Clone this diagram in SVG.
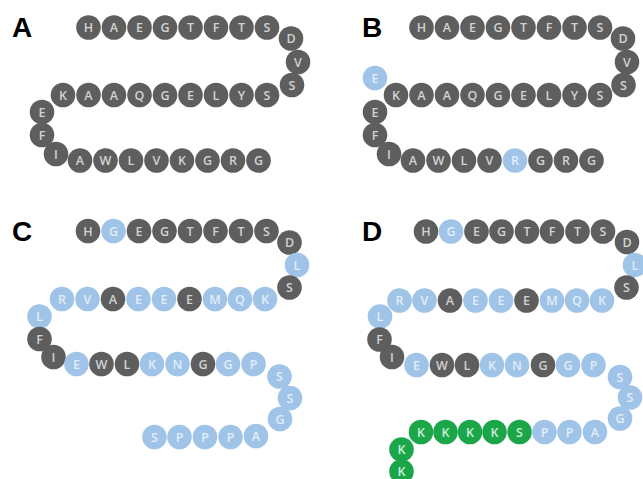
<svg xmlns="http://www.w3.org/2000/svg" width="643" height="479" viewBox="0 0 643 479">
<style>
circle{r:12.3px}
text{font-family:"Open Sans","Liberation Sans",sans-serif;font-size:12.5px;font-weight:600;text-anchor:middle;dominant-baseline:central}
.g circle{fill:#5e5e5e}.g text{fill:#d2d2d2}
.b circle{fill:#9fc4e8}.b text{fill:#e2edf9}
.k circle{fill:#1ca64a}.k text{fill:#cdeed6}
.lab{font-family:"Liberation Sans",Arial,sans-serif;font-weight:bold;font-size:28px;fill:#000;text-anchor:start;dominant-baseline:auto}
</style>
<rect width="643" height="479" fill="#fff"/>
<text class="lab" x="12" y="37">A</text>
<text class="lab" x="362" y="37">B</text>
<text class="lab" x="12" y="241">C</text>
<text class="lab" x="362" y="241">D</text>
<g id="panelA">
<g id="A1" class="g"><circle cx="88.5" cy="27.5"/><text x="88.5" y="27.5">H</text></g>
<g id="A2" class="g"><circle cx="114" cy="27.5"/><text x="114" y="27.5">A</text></g>
<g id="A3" class="g"><circle cx="139.5" cy="27.5"/><text x="139.5" y="27.5">E</text></g>
<g id="A4" class="g"><circle cx="165" cy="27.5"/><text x="165" y="27.5">G</text></g>
<g id="A5" class="g"><circle cx="190.5" cy="27.5"/><text x="190.5" y="27.5">T</text></g>
<g id="A6" class="g"><circle cx="216" cy="27.5"/><text x="216" y="27.5">F</text></g>
<g id="A7" class="g"><circle cx="241.5" cy="27.5"/><text x="241.5" y="27.5">T</text></g>
<g id="A8" class="g"><circle cx="267" cy="27.5"/><text x="267" y="27.5">S</text></g>
<g id="A9" class="g"><circle cx="291" cy="38.5"/><text x="291" y="38.5">D</text></g>
<g id="A10" class="g"><circle cx="298" cy="62"/><text x="298" y="62">V</text></g>
<g id="A11" class="g"><circle cx="292" cy="85"/><text x="292" y="85">S</text></g>
<g id="A12" class="g"><circle cx="267" cy="95"/><text x="267" y="95">S</text></g>
<g id="A13" class="g"><circle cx="241.5" cy="95"/><text x="241.5" y="95">Y</text></g>
<g id="A14" class="g"><circle cx="216" cy="95"/><text x="216" y="95">L</text></g>
<g id="A15" class="g"><circle cx="190.5" cy="95"/><text x="190.5" y="95">E</text></g>
<g id="A16" class="g"><circle cx="165" cy="95"/><text x="165" y="95">G</text></g>
<g id="A17" class="g"><circle cx="139.5" cy="95"/><text x="139.5" y="95">Q</text></g>
<g id="A18" class="g"><circle cx="114" cy="95"/><text x="114" y="95">A</text></g>
<g id="A19" class="g"><circle cx="88.5" cy="95"/><text x="88.5" y="95">A</text></g>
<g id="A20" class="g"><circle cx="63" cy="95"/><text x="63" y="95">K</text></g>
<g id="A21" class="g"><circle cx="42" cy="112"/><text x="42" y="112">E</text></g>
<g id="A22" class="g"><circle cx="42" cy="135"/><text x="42" y="135">F</text></g>
<g id="A23" class="g"><circle cx="56" cy="154"/><text x="56" y="154">I</text></g>
<g id="A24" class="g"><circle cx="80" cy="160.5"/><text x="80" y="160.5">A</text></g>
<g id="A25" class="g"><circle cx="105.5" cy="160.5"/><text x="105.5" y="160.5">W</text></g>
<g id="A26" class="g"><circle cx="131" cy="160.5"/><text x="131" y="160.5">L</text></g>
<g id="A27" class="g"><circle cx="156.5" cy="160.5"/><text x="156.5" y="160.5">V</text></g>
<g id="A28" class="g"><circle cx="182" cy="160.5"/><text x="182" y="160.5">K</text></g>
<g id="A29" class="g"><circle cx="207.5" cy="160.5"/><text x="207.5" y="160.5">G</text></g>
<g id="A30" class="g"><circle cx="233" cy="160.5"/><text x="233" y="160.5">R</text></g>
<g id="A31" class="g"><circle cx="258.5" cy="160.5"/><text x="258.5" y="160.5">G</text></g>
</g>
<g id="panelB">
<g id="B1" class="g"><circle cx="421.5" cy="27.5"/><text x="421.5" y="27.5">H</text></g>
<g id="B2" class="g"><circle cx="447" cy="27.5"/><text x="447" y="27.5">A</text></g>
<g id="B3" class="g"><circle cx="472.5" cy="27.5"/><text x="472.5" y="27.5">E</text></g>
<g id="B4" class="g"><circle cx="498" cy="27.5"/><text x="498" y="27.5">G</text></g>
<g id="B5" class="g"><circle cx="523.5" cy="27.5"/><text x="523.5" y="27.5">T</text></g>
<g id="B6" class="g"><circle cx="549" cy="27.5"/><text x="549" y="27.5">F</text></g>
<g id="B7" class="g"><circle cx="574.5" cy="27.5"/><text x="574.5" y="27.5">T</text></g>
<g id="B8" class="g"><circle cx="600" cy="27.5"/><text x="600" y="27.5">S</text></g>
<g id="B9" class="g"><circle cx="623" cy="38.5"/><text x="623" y="38.5">D</text></g>
<g id="B10" class="g"><circle cx="627" cy="62"/><text x="627" y="62">V</text></g>
<g id="B11" class="g"><circle cx="623.5" cy="85"/><text x="623.5" y="85">S</text></g>
<g id="B12" class="g"><circle cx="600" cy="95"/><text x="600" y="95">S</text></g>
<g id="B13" class="g"><circle cx="574.5" cy="95"/><text x="574.5" y="95">Y</text></g>
<g id="B14" class="g"><circle cx="549" cy="95"/><text x="549" y="95">L</text></g>
<g id="B15" class="g"><circle cx="523.5" cy="95"/><text x="523.5" y="95">E</text></g>
<g id="B16" class="g"><circle cx="498" cy="95"/><text x="498" y="95">G</text></g>
<g id="B17" class="g"><circle cx="472.5" cy="95"/><text x="472.5" y="95">Q</text></g>
<g id="B18" class="g"><circle cx="447" cy="95"/><text x="447" y="95">A</text></g>
<g id="B19" class="g"><circle cx="421.5" cy="95"/><text x="421.5" y="95">A</text></g>
<g id="B20" class="g"><circle cx="396" cy="95"/><text x="396" y="95">K</text></g>
<g id="B21" class="b"><circle cx="375" cy="78"/><text x="375" y="78">E</text></g>
<g id="B22" class="g"><circle cx="375" cy="112"/><text x="375" y="112">E</text></g>
<g id="B23" class="g"><circle cx="375" cy="135"/><text x="375" y="135">F</text></g>
<g id="B24" class="g"><circle cx="389" cy="154"/><text x="389" y="154">I</text></g>
<g id="B25" class="g"><circle cx="413" cy="160.5"/><text x="413" y="160.5">A</text></g>
<g id="B26" class="g"><circle cx="438.5" cy="160.5"/><text x="438.5" y="160.5">W</text></g>
<g id="B27" class="g"><circle cx="464" cy="160.5"/><text x="464" y="160.5">L</text></g>
<g id="B28" class="g"><circle cx="489.5" cy="160.5"/><text x="489.5" y="160.5">V</text></g>
<g id="B29" class="b"><circle cx="515" cy="160.5"/><text x="515" y="160.5">R</text></g>
<g id="B30" class="g"><circle cx="540.5" cy="160.5"/><text x="540.5" y="160.5">G</text></g>
<g id="B31" class="g"><circle cx="566" cy="160.5"/><text x="566" y="160.5">R</text></g>
<g id="B32" class="g"><circle cx="591.5" cy="160.5"/><text x="591.5" y="160.5">G</text></g>
</g>
<g id="panelC">
<g id="C1" class="g"><circle cx="88" cy="231"/><text x="88" y="231">H</text></g>
<g id="C2" class="b"><circle cx="113.5" cy="231"/><text x="113.5" y="231">G</text></g>
<g id="C3" class="g"><circle cx="139" cy="231"/><text x="139" y="231">E</text></g>
<g id="C4" class="g"><circle cx="164.5" cy="231"/><text x="164.5" y="231">G</text></g>
<g id="C5" class="g"><circle cx="190" cy="231"/><text x="190" y="231">T</text></g>
<g id="C6" class="g"><circle cx="215.5" cy="231"/><text x="215.5" y="231">F</text></g>
<g id="C7" class="g"><circle cx="241" cy="231"/><text x="241" y="231">T</text></g>
<g id="C8" class="g"><circle cx="266.5" cy="231"/><text x="266.5" y="231">S</text></g>
<g id="C9" class="g"><circle cx="289.5" cy="242.5"/><text x="289.5" y="242.5">D</text></g>
<g id="C10" class="b"><circle cx="297" cy="265"/><text x="297" y="265">L</text></g>
<g id="C11" class="g"><circle cx="289.5" cy="287.5"/><text x="289.5" y="287.5">S</text></g>
<g id="C12" class="b"><circle cx="265" cy="299"/><text x="265" y="299">K</text></g>
<g id="C13" class="b"><circle cx="240" cy="299"/><text x="240" y="299">Q</text></g>
<g id="C14" class="b"><circle cx="215" cy="299"/><text x="215" y="299">M</text></g>
<g id="C15" class="g"><circle cx="189.5" cy="299"/><text x="189.5" y="299">E</text></g>
<g id="C16" class="b"><circle cx="164" cy="299"/><text x="164" y="299">E</text></g>
<g id="C17" class="b"><circle cx="138.5" cy="299"/><text x="138.5" y="299">E</text></g>
<g id="C18" class="g"><circle cx="113" cy="299"/><text x="113" y="299">A</text></g>
<g id="C19" class="b"><circle cx="87.5" cy="299"/><text x="87.5" y="299">V</text></g>
<g id="C20" class="b"><circle cx="62" cy="299"/><text x="62" y="299">R</text></g>
<g id="C21" class="b"><circle cx="39.5" cy="316.5"/><text x="39.5" y="316.5">L</text></g>
<g id="C22" class="g"><circle cx="39.5" cy="339"/><text x="39.5" y="339">F</text></g>
<g id="C23" class="g"><circle cx="53.5" cy="357"/><text x="53.5" y="357">I</text></g>
<g id="C24" class="b"><circle cx="76.5" cy="364"/><text x="76.5" y="364">E</text></g>
<g id="C25" class="g"><circle cx="101.5" cy="364"/><text x="101.5" y="364">W</text></g>
<g id="C26" class="g"><circle cx="127" cy="364"/><text x="127" y="364">L</text></g>
<g id="C27" class="b"><circle cx="152" cy="364"/><text x="152" y="364">K</text></g>
<g id="C28" class="b"><circle cx="177.5" cy="364"/><text x="177.5" y="364">N</text></g>
<g id="C29" class="g"><circle cx="203" cy="364"/><text x="203" y="364">G</text></g>
<g id="C30" class="b"><circle cx="228" cy="364"/><text x="228" y="364">G</text></g>
<g id="C31" class="b"><circle cx="253.5" cy="364"/><text x="253.5" y="364">P</text></g>
<g id="C32" class="b"><circle cx="279.5" cy="376.5"/><text x="279.5" y="376.5">S</text></g>
<g id="C33" class="b"><circle cx="290" cy="398"/><text x="290" y="398">S</text></g>
<g id="C34" class="b"><circle cx="280" cy="419"/><text x="280" y="419">G</text></g>
<g id="C35" class="b"><circle cx="256" cy="436"/><text x="256" y="436">A</text></g>
<g id="C36" class="b"><circle cx="230.5" cy="437"/><text x="230.5" y="437">P</text></g>
<g id="C37" class="b"><circle cx="205" cy="437"/><text x="205" y="437">P</text></g>
<g id="C38" class="b"><circle cx="179.5" cy="437"/><text x="179.5" y="437">P</text></g>
<g id="C39" class="b"><circle cx="154.5" cy="437"/><text x="154.5" y="437">S</text></g>
</g>
<g id="panelD">
<g id="D1" class="g"><circle cx="426" cy="231.5"/><text x="426" y="231.5">H</text></g>
<g id="D2" class="b"><circle cx="451" cy="231.5"/><text x="451" y="231.5">G</text></g>
<g id="D3" class="g"><circle cx="476.5" cy="231.5"/><text x="476.5" y="231.5">E</text></g>
<g id="D4" class="g"><circle cx="501.5" cy="231.5"/><text x="501.5" y="231.5">G</text></g>
<g id="D5" class="g"><circle cx="527" cy="231.5"/><text x="527" y="231.5">T</text></g>
<g id="D6" class="g"><circle cx="552" cy="231.5"/><text x="552" y="231.5">F</text></g>
<g id="D7" class="g"><circle cx="577.5" cy="231.5"/><text x="577.5" y="231.5">T</text></g>
<g id="D8" class="g"><circle cx="603" cy="231.5"/><text x="603" y="231.5">S</text></g>
<g id="D9" class="g"><circle cx="627" cy="242"/><text x="627" y="242">D</text></g>
<g id="D10" class="b"><circle cx="635" cy="265"/><text x="635" y="265">L</text></g>
<g id="D11" class="g"><circle cx="626.5" cy="287.5"/><text x="626.5" y="287.5">S</text></g>
<g id="D12" class="b"><circle cx="602" cy="300.5"/><text x="602" y="300.5">K</text></g>
<g id="D13" class="b"><circle cx="577" cy="300.5"/><text x="577" y="300.5">Q</text></g>
<g id="D14" class="b"><circle cx="552" cy="300.5"/><text x="552" y="300.5">M</text></g>
<g id="D15" class="g"><circle cx="526.5" cy="300.5"/><text x="526.5" y="300.5">E</text></g>
<g id="D16" class="b"><circle cx="501" cy="300.5"/><text x="501" y="300.5">E</text></g>
<g id="D17" class="b"><circle cx="475.5" cy="300.5"/><text x="475.5" y="300.5">E</text></g>
<g id="D18" class="g"><circle cx="450" cy="300.5"/><text x="450" y="300.5">A</text></g>
<g id="D19" class="b"><circle cx="424.5" cy="300.5"/><text x="424.5" y="300.5">V</text></g>
<g id="D20" class="b"><circle cx="399.5" cy="300.5"/><text x="399.5" y="300.5">R</text></g>
<g id="D21" class="b"><circle cx="380" cy="316.5"/><text x="380" y="316.5">L</text></g>
<g id="D22" class="g"><circle cx="379.5" cy="339.5"/><text x="379.5" y="339.5">F</text></g>
<g id="D23" class="g"><circle cx="392" cy="357"/><text x="392" y="357">I</text></g>
<g id="D24" class="b"><circle cx="416.5" cy="365"/><text x="416.5" y="365">E</text></g>
<g id="D25" class="g"><circle cx="442" cy="365"/><text x="442" y="365">W</text></g>
<g id="D26" class="g"><circle cx="467" cy="365"/><text x="467" y="365">L</text></g>
<g id="D27" class="b"><circle cx="492" cy="365"/><text x="492" y="365">K</text></g>
<g id="D28" class="b"><circle cx="517" cy="365"/><text x="517" y="365">N</text></g>
<g id="D29" class="g"><circle cx="543" cy="365"/><text x="543" y="365">G</text></g>
<g id="D30" class="b"><circle cx="568" cy="365"/><text x="568" y="365">G</text></g>
<g id="D31" class="b"><circle cx="593.5" cy="365"/><text x="593.5" y="365">P</text></g>
<g id="D32" class="b"><circle cx="620" cy="377"/><text x="620" y="377">S</text></g>
<g id="D33" class="b"><circle cx="630" cy="397.5"/><text x="630" y="397.5">S</text></g>
<g id="D34" class="b"><circle cx="620" cy="418.5"/><text x="620" y="418.5">G</text></g>
<g id="D35" class="b"><circle cx="595" cy="432"/><text x="595" y="432">A</text></g>
<g id="D36" class="b"><circle cx="569.5" cy="432"/><text x="569.5" y="432">P</text></g>
<g id="D37" class="b"><circle cx="544.5" cy="432"/><text x="544.5" y="432">P</text></g>
<g id="D38" class="k"><circle cx="519.5" cy="432"/><text x="519.5" y="432">S</text></g>
<g id="D39" class="k"><circle cx="494.5" cy="432"/><text x="494.5" y="432">K</text></g>
<g id="D40" class="k"><circle cx="470" cy="432"/><text x="470" y="432">K</text></g>
<g id="D41" class="k"><circle cx="445.5" cy="432"/><text x="445.5" y="432">K</text></g>
<g id="D42" class="k"><circle cx="421" cy="432"/><text x="421" y="432">K</text></g>
<g id="D43" class="k"><circle cx="401.5" cy="449.5"/><text x="401.5" y="449.5">K</text></g>
<g id="D44" class="k"><circle cx="401.5" cy="471.5"/><text x="401.5" y="471.5">K</text></g>
</g>
</svg>
